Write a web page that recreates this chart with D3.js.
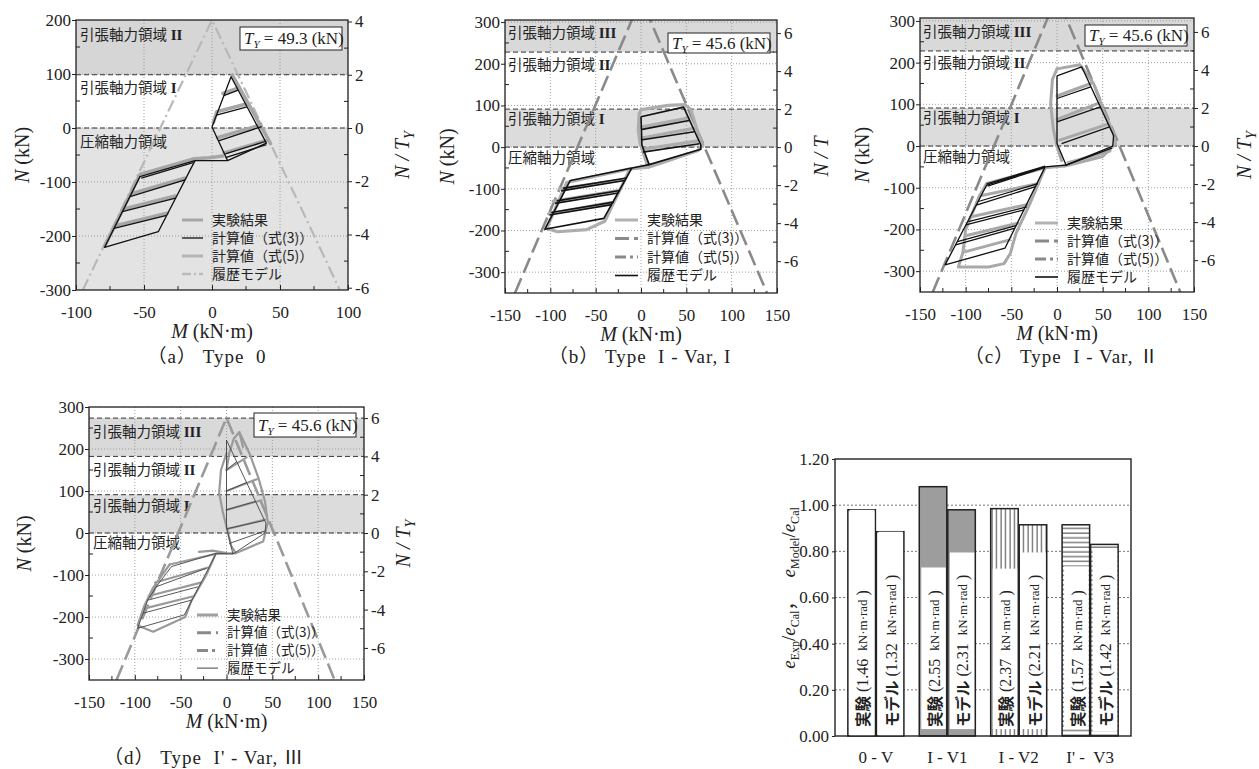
<!DOCTYPE html>
<html>
<head>
<meta charset="utf-8">
<script src="https://cdn.jsdelivr.net/npm/d3@7"></script>
<style>
body { margin: 0; background: #fff; }
svg { display: block; }
text { fill: #222; }
.tk { font-family: "Liberation Serif", "Times New Roman", serif; font-size: 17px; }
.jp { font-family: "Noto Sans CJK JP", sans-serif; }
.sf { font-family: "Liberation Serif", "Noto Sans CJK JP", serif; }
.grid { stroke: #8a8a8a; stroke-width: 0.8; stroke-dasharray: 1,2; }
</style>
</head>
<body>
<svg id="fig" width="1259" height="769"></svg>
<script>
// ---------- shared ticks ----------
var xTicksA = [-100, -50, 0, 50, 100];
var yTicksA = [-300, -200, -100, 0, 100, 200];
var rTicksA = [-6, -4, -2, 0, 2, 4];
var xTicks = [-150, -100, -50, 0, 50, 100, 150];
var yTicks = [-300, -200, -100, 0, 100, 200, 300];
var rTicks = [-6, -4, -2, 0, 2, 4, 6];
var legendText = ['実験結果', '計算値（式(3)）', '計算値（式(5)）', '履歴モデル'];

// ---------- (a) Type 0 ----------
var tyA = 49.3;
var bandsA = [[98.6, 200], [-300, 0]];
var limitsA = [98.6, 0];
var envA = [[-95, -300], [0, 200], [94, -300]];
var modelA = [
  [[11.5, -60.5], [0, 2], [14, 95], [40, -28], [11.5, -60.5]],
  [[8.7, 60], [19.3, 70]], [[3.3, 24], [25.8, 39]], [[4.8, -24], [36.5, 2.5]], [[9.8, -48], [39, -25]],
  [[10, -55], [40, -31]],
  [[11.5, -60.5], [-12.5, -60.5]],
  [[-12.5, -60.5], [-39.5, -192], [-79, -221], [-53, -90], [-12.5, -60.5]],
  [[-52, -93], [-14, -64]],
  [[-60.3, -127], [-19.8, -96]], [[-65.9, -155], [-26.8, -130]], [[-72, -186], [-33.3, -162]]
];
var expA = [
  [[1, 10], [3.5, 30], [26, 45]],
  [[8, 64], [19, 74]],
  [[4, -18], [36, 6]],
  [[9, -46], [40, -23]],
  [[15, 98], [42, -24], [43, -29]],
  [[-13, -57], [-2, -55], [8, -52]],
  [[-79, -219], [-53, -86], [-13, -57]],
  [[-60, -122], [-20, -93]],
  [[-65, -150], [-27, -126]],
  [[-71, -181], [-33, -158]]
];

// ---------- (b) Type I - Var, I ----------
var tyB = 45.6;
var bandsB = [[228, 310], [0, 91.2]];
var limitsB = [228, 91.2, 0];
var envB = [[-139, -350], [0, 356], [139, -350]];
var modelB = [
  [[0, 73], [47, 96], [66, 5], [66, -5], [9, -42], [1, 5], [0, 73]],
  [[0, 42], [53, 64]], [[0, 17], [58.7, 37]], [[2, -12], [64.4, 8]],
  [[9, -42], [-10, -50]],
  [[-10, -50], [-41, -171], [-106, -197], [-78, -80], [-10, -50]],
  [[-88, -105], [-18, -80]], [[-95, -135], [-25, -110]], [[-101, -163], [-32, -138]],
  [[-86, -99], [-16, -74]], [[-93, -129], [-23, -104]], [[-99, -157], [-30, -132]]
];
var expB = [
  [[-2, 80], [0, 90], [30, 100], [48, 102], [55, 90], [62, 40], [68, 5], [63, -8], [20, -40], [8, -48]],
  [[-2, 80], [-3, 40], [-1, 10], [5, -30], [8, -48]],
  [[0, 48], [52, 70]], [[1, 22], [58, 45]], [[3, -5], [63, 15]],
  [[8, -48], [-12, -52]],
  [[-12, -52], [-40, -178], [-60, -198], [-92, -203], [-104, -195], [-95, -150], [-82, -85], [-12, -52]],
  [[-90, -100], [-18, -78]], [[-97, -130], [-25, -104]], [[-102, -160], [-33, -133]]
];

// ---------- (c) Type I - Var, II ----------
var tyC = 45.6;
var bandsC = [[228, 310], [0, 91.2]];
var limitsC = [228, 91.2, 0];
var envC = [[-136, -350], [0, 360], [135, -350]];
var modelC = [
  [[0, 168], [27, 190], [62, 25], [61, 0], [10, -46], [0, 6], [0, 168]],
  [[0, 114], [37, 142]], [[0, 58], [47.4, 94]], [[5, 6], [57.5, 46]], [[10, -46], [60, -5]],
  [[10, -46], [-13, -50]],
  [[-13, -50], [-57, -245], [-122.5, -285], [-77, -93.5], [-13, -50]],
  [[-88.4, -141.5], [-23.7, -97.6]], [[-99.7, -189], [-36, -153]], [[-111, -237], [-46, -197]],
  [[-86, -133], [-21, -90]], [[-97, -181], [-33, -146]], [[-109, -229], [-44, -190]],
  [[-77, -91], [-13, -48]], [[-76, -96], [-14, -52]]
];
var expC = [
  [[0, 185], [25, 195], [40, 150], [52, 80], [62, 30], [64, 5], [50, -25], [20, -42], [8, -48]],
  [[0, 185], [-5, 160], [-7, 100], [-4, 40], [0, 0], [5, -35]],
  [[0, 120], [37, 150]], [[0, 64], [45, 102]], [[3, 14], [55, 52]], [[12, -40], [58, -12]],
  [[8, -48], [-13, -52]],
  [[-13, -52], [-77, -90]],
  [[-85, -120], [-20, -90]], [[-95, -170], [-32, -140]], [[-100, -215], [-43, -185]], [[-103, -255], [-52, -225]],
  [[-13, -52], [-30, -140], [-45, -210], [-51, -257], [-58, -282], [-75, -290], [-108, -290], [-103, -255], [-100, -200], [-85, -120], [-77, -90]]
];

// ---------- (d) Type I' - Var, III ----------
var tyD = 45.6;
var bandsD = [[182.4, 273.6], [0, 91.2]];
var limitsD = [273.6, 182.4, 91.2, 0];
var envD = [[-120, -350], [0, 274], [118, -350]];
var modelD = [
  [[0, 221], [43, 23], [42, 0], [7, -50], [0, 14], [0, 221]],
  [[0, 150], [11.1, 170]], [[0, 100], [21.9, 120]], [[0, 55], [31.7, 75]], [[0, 10], [41.5, 30]],
  [[3, -25], [42, 5]],
  [[7, -50], [-11, -48]],
  [[-11, -48], [-46, -195], [-97, -227], [-91, -191], [-86, -160], [-76.7, -128], [-60, -80], [-11, -48]],
  [[-76.7, -128], [-22, -84]], [[-86, -160], [-31, -128]], [[-91, -191], [-38.5, -160]]
];
var expD = [
  [[0, 150], [3, 190], [8, 225], [14, 240], [18, 205]],
  [[14, 240], [25, 190], [35, 130], [42, 75], [45, 25], [40, -20], [10, -48]],
  [[0, 190], [-6, 150], [-8, 95], [-4, 50], [0, 15], [5, -30], [10, -48]],
  [[0, 150], [22, 180]], [[0, 100], [33, 128]], [[0, 55], [38, 78]], [[2, 10], [42, 32]],
  [[10, -48], [-12, -50]],
  [[-12, -50], [-62, -75]],
  [[-62, -75], [-80, -130], [-90, -175], [-97, -220], [-80, -235], [-45, -200], [-38, -160], [-22, -100], [-12, -50]],
  [[-78, -118], [-20, -82]], [[-85, -150], [-28, -118]], [[-90, -180], [-35, -150]],
  [[-30, -45], [-15, -42], [0, -48]]
];

// ---------- bar chart ----------
var barGroups = ['0 - V', 'I - V1', 'I - V2', "I' -  V3"];
var barValues = [0.98, 0.885, 1.08, 0.98, 0.985, 0.915, 0.915, 0.83];
var barTags = ['実験', 'モデル', '実験', 'モデル', '実験', 'モデル', '実験', 'モデル'];
var barEnergy = ['1.46', '1.32', '2.55', '2.31', '2.37', '2.21', '1.57', '1.42'];
var boxTop = [0.98, 0.885, 0.73, 0.795, 0.725, 0.795, 0.735, 0.805];
var boxBottom = [0, 0, 0.03, 0.03, 0.03, 0.03, 0.03, 0.02];
var barTicks = [0, 0.2, 0.4, 0.6, 0.8, 1.0, 1.2];

var svg = d3.select('#fig');
var defs = svg.append('defs');

function panel(o) {
  var x = d3.scaleLinear().domain(o.xd).range([o.x0, o.x1]);
  var y = d3.scaleLinear().domain(o.yd).range([o.y1, o.y0]);
  var yr = d3.scaleLinear().domain([o.yd[0] / o.ty, o.yd[1] / o.ty]).range([o.y1, o.y0]);
  var line = d3.line().x(d => x(d[0])).y(d => y(d[1]));
  var w = o.x1 - o.x0, h = o.y1 - o.y0;
  var g = svg.append('g');
  defs.append('clipPath').attr('id', 'cp' + o.id).append('rect')
    .attr('x', o.x0).attr('y', o.y0).attr('width', w).attr('height', h);
  var p = g.append('g').attr('clip-path', 'url(#cp' + o.id + ')');

  p.selectAll(null).data(o.bands).enter().append('rect')
    .attr('x', o.x0).attr('width', w)
    .attr('y', d => y(d[1])).attr('height', d => y(d[0]) - y(d[1]))
    .attr('fill', (d, i) => o.bandFill[i]);
  p.selectAll(null).data(o.xt).enter().append('line').attr('class', 'grid')
    .attr('x1', d => x(d)).attr('x2', d => x(d)).attr('y1', o.y0).attr('y2', o.y1);
  p.selectAll(null).data(o.yt).enter().append('line').attr('class', 'grid')
    .attr('y1', d => y(d)).attr('y2', d => y(d)).attr('x1', o.x0).attr('x2', o.x1);
  p.selectAll(null).data(o.limits).enter().append('line')
    .attr('y1', d => y(d)).attr('y2', d => y(d)).attr('x1', o.x0).attr('x2', o.x1)
    .attr('stroke', '#333').attr('stroke-width', 1).attr('stroke-dasharray', '5,3');

  // zone labels
  o.zones.forEach(z => {
    var t = p.append('text').attr('x', z[2]).attr('y', z[3]);
    t.append('tspan').attr('class', 'jp').style('font-size', '14.5px').text(z[0]);
    if (z[1]) t.append('tspan').attr('class', 'sf').style('font-size', '15px')
      .style('font-weight', 'bold').text(' ' + z[1]);
  });

  // envelope, test result, model
  p.append('path').datum(o.env).attr('d', line).attr('fill', 'none')
    .attr('stroke', o.envStyle.c).attr('stroke-width', o.envStyle.w)
    .attr('stroke-dasharray', o.envStyle.dash);
  p.selectAll(null).data(o.exp).enter().append('path').attr('d', line)
    .attr('fill', 'none').attr('stroke', o.expStyle.c).attr('stroke-width', o.expStyle.w)
    .attr('stroke-linejoin', 'round').attr('stroke-linecap', 'round');
  p.selectAll(null).data(o.model).enter().append('path').attr('d', line)
    .attr('fill', 'none').attr('stroke', o.modelStyle.c).attr('stroke-width', o.modelStyle.w)
    .attr('stroke-linejoin', 'round');

  // minor ticks
  var mx = o.xt.slice(1).map((d, i) => (d + o.xt[i]) / 2);
  var my = o.yt.slice(1).map((d, i) => (d + o.yt[i]) / 2);
  var mr = o.rt.slice(1).map((d, i) => (d + o.rt[i]) / 2);
  g.selectAll(null).data(mx).enter().append('line')
    .attr('x1', d => x(d)).attr('x2', d => x(d)).attr('y1', o.y1).attr('y2', o.y1 - 4).attr('stroke', '#222');
  g.selectAll(null).data(my).enter().append('line')
    .attr('x1', o.x0).attr('x2', o.x0 + 4).attr('y1', d => y(d)).attr('y2', d => y(d)).attr('stroke', '#222');
  g.selectAll(null).data(mr).enter().append('line')
    .attr('x1', o.x1).attr('x2', o.x1 - 4).attr('y1', d => yr(d)).attr('y2', d => yr(d)).attr('stroke', '#222');

  g.append('rect').attr('x', o.x0).attr('y', o.y0).attr('width', w).attr('height', h)
    .attr('fill', 'none').attr('stroke', '#222').attr('stroke-width', 1.3);

  var fmt = d => String(d);
  var ab = g.append('g').attr('transform', 'translate(0,' + o.y1 + ')')
    .call(d3.axisBottom(x).tickValues(o.xt).tickSizeInner(-5).tickSizeOuter(0).tickPadding(16).tickFormat(fmt));
  var al = g.append('g').attr('transform', 'translate(' + o.x0 + ',0)')
    .call(d3.axisLeft(y).tickValues(o.yt).tickSizeInner(4).tickSizeOuter(0).tickPadding(1).tickFormat(fmt));
  var ar = g.append('g').attr('transform', 'translate(' + o.x1 + ',0)')
    .call(d3.axisRight(yr).tickValues(o.rt).tickSizeInner(4).tickSizeOuter(0).tickPadding(3).tickFormat(fmt));
  [ab, al, ar].forEach(a => {
    a.select('.domain').remove();
    a.selectAll('text').attr('class', 'tk');
    a.selectAll('line').attr('stroke', '#222');
  });

  // axis titles
  var cy = (o.y0 + o.y1) / 2, cx = (o.x0 + o.x1) / 2;
  var nl = g.append('text').attr('class', 'sf').style('font-size', '20px').attr('text-anchor', 'middle')
    .attr('dy', '0.35em').attr('transform', 'translate(' + (o.x0 - o.nx) + ',' + cy + ') rotate(-90)');
  nl.append('tspan').style('font-style', 'italic').text('N');
  nl.append('tspan').text(' (kN)');
  var ml = g.append('text').attr('class', 'sf').style('font-size', '20px').attr('text-anchor', 'middle')
    .attr('x', cx).attr('y', o.y1 + 48);
  ml.append('tspan').style('font-style', 'italic').text('M');
  ml.append('tspan').text(' (kN·m)');
  var rl = g.append('text').attr('class', 'sf').style('font-size', '20px').attr('text-anchor', 'middle')
    .attr('dy', '0.35em').attr('transform', 'translate(' + (o.x1 + o.rx) + ',' + cy + ') rotate(-90)')
    .style('font-style', 'italic');
  rl.append('tspan').text('N / T');
  if (o.sub) rl.append('tspan').attr('dy', 5).style('font-size', '14px').text('Y');

  // T_Y box
  var b = o.tyBox;
  g.append('rect').attr('x', b[0]).attr('y', b[1]).attr('width', b[2]).attr('height', b[3])
    .attr('fill', '#fff').attr('stroke', '#222').attr('stroke-width', 1);
  var tt = g.append('text').attr('class', 'sf').style('font-size', '17px')
    .attr('x', b[0] + 4).attr('y', b[1] + b[3] / 2).attr('dy', '0.33em');
  tt.append('tspan').style('font-style', 'italic').text('T');
  tt.append('tspan').attr('dy', 4).style('font-style', 'italic').style('font-size', '11px').text('Y');
  tt.append('tspan').attr('dy', -4).text(' = ' + o.ty + ' (kN)');

  // legend
  var L = o.legend;
  legendText.forEach((t, i) => {
    var s = L.styles[i], yy = L.y + i * L.step;
    g.append('line').attr('x1', L.x0).attr('x2', L.x1).attr('y1', yy).attr('y2', yy)
      .attr('stroke', s.c).attr('stroke-width', s.w).attr('stroke-dasharray', s.dash || null);
    g.append('text').attr('class', 'jp').style('font-size', L.fs)
      .attr('x', L.tx).attr('y', yy).attr('dy', '0.35em').text(t);
  });

  // caption
  g.append('text').attr('class', 'sf').style('font-size', '19px').style('letter-spacing', '1px')
    .attr('text-anchor', 'middle')
    .attr('x', o.cap[1]).attr('y', o.cap[2]).style('white-space', 'pre').text(o.cap[0]);
}

var stylesBC = [
  { c: '#b2b2b2', w: 3 },
  { c: '#8a8a8a', w: 3, dash: '14,5' },
  { c: '#8a8a8a', w: 3, dash: '11,4,3,4' },
  { c: '#111', w: 1.6 }
];

panel({
  id: 'a', x0: 76, x1: 348, y0: 20, y1: 290, xd: [-100, 100], yd: [-300, 200], ty: tyA,
  xt: xTicksA, yt: yTicksA, rt: rTicksA,
  bands: bandsA, bandFill: ['#d6d6d6', '#e3e3e3'], limits: limitsA,
  env: envA, envStyle: { c: '#b8b8b8', w: 2.2, dash: '12,4,2,4' },
  model: modelA, modelStyle: { c: '#111', w: 1.3 },
  exp: expA, expStyle: { c: '#a6a6a6', w: 3.5 },
  zones: [['引張軸力領域', 'II', 80, 40], ['引張軸力領域', 'I', 80, 93], ['圧縮軸力領域', '', 80, 147]],
  tyBox: [240, 27, 102, 23], nx: 54, rx: 54, sub: true,
  legend: { x0: 182, x1: 203, tx: 212, y: 220, step: 18, fs: '14px',
    styles: [{ c: '#a6a6a6', w: 3 }, { c: '#111', w: 1.3 }, { c: '#b4b4b4', w: 3 }, { c: '#bbb', w: 2.5, dash: '9,3,2,3' }] },
  cap: ['（a） Type  0', 207, 363]
});

panel({
  id: 'b', x0: 505, x1: 777, y0: 20, y1: 293, xd: [-150, 150], yd: [-350, 305], ty: tyB,
  xt: xTicks, yt: yTicks, rt: rTicks,
  bands: bandsB, bandFill: ['#d9d9d9', '#dcdcdc'], limits: limitsB,
  env: envB, envStyle: { c: '#8a8a8a', w: 2.6, dash: '16,6' },
  model: modelB, modelStyle: { c: '#111', w: 1.6 },
  exp: expB, expStyle: { c: '#adadad', w: 3.2 },
  zones: [['引張軸力領域', 'III', 508, 38], ['引張軸力領域', 'II', 508, 70], ['引張軸力領域', 'I', 508, 124], ['圧縮軸力領域', '', 508, 163]],
  tyBox: [668, 33, 102, 20], nx: 58, rx: 44, sub: false,
  legend: { x0: 615, x1: 638, tx: 647, y: 220, step: 18.5, fs: '14px', styles: stylesBC },
  cap: ['（b） Type  I - Var, I', 640, 363]
});

panel({
  id: 'c', x0: 920, x1: 1194, y0: 18, y1: 292, xd: [-150, 150], yd: [-350, 307], ty: tyC,
  xt: xTicks, yt: yTicks, rt: rTicks,
  bands: bandsC, bandFill: ['#d9d9d9', '#dcdcdc'], limits: limitsC,
  env: envC, envStyle: { c: '#8a8a8a', w: 2.6, dash: '16,6' },
  model: modelC, modelStyle: { c: '#111', w: 1.3 },
  exp: expC, expStyle: { c: '#a9a9a9', w: 3 },
  zones: [['引張軸力領域', 'III', 923, 37], ['引張軸力領域', 'II', 923, 68], ['引張軸力領域', 'I', 923, 123], ['圧縮軸力領域', '', 923, 162]],
  tyBox: [1085, 25, 102, 21], nx: 58, rx: 50, sub: true,
  legend: { x0: 1035, x1: 1058, tx: 1067, y: 223, step: 18, fs: '14px', styles: stylesBC },
  cap: ['（c） Type  I - Var, Ⅱ', 1062, 363]
});

panel({
  id: 'd', x0: 89, x1: 364, y0: 407, y1: 680, xd: [-150, 150], yd: [-350, 300], ty: tyD,
  xt: xTicks, yt: yTicks, rt: rTicks,
  bands: bandsD, bandFill: ['#d9d9d9', '#dcdcdc'], limits: limitsD,
  env: envD, envStyle: { c: '#9a9a9a', w: 2.6, dash: '16,6' },
  model: modelD, modelStyle: { c: '#444', w: 0.9 },
  exp: expD, expStyle: { c: '#9a9a9a', w: 2.2 },
  zones: [['引張軸力領域', 'III', 93, 437], ['引張軸力領域', 'II', 93, 475], ['引張軸力領域', 'I', 93, 511], ['圧縮軸力領域', '', 93, 548]],
  tyBox: [254, 413, 102, 24], nx: 65, rx: 39, sub: true,
  legend: { x0: 197, x1: 218, tx: 227, y: 615, step: 17.7, fs: '13.5px',
    styles: [{ c: '#a0a0a0', w: 3 }, { c: '#8a8a8a', w: 3, dash: '14,5' }, { c: '#8a8a8a', w: 3, dash: '11,4,3,4' }, { c: '#444', w: 1 }] },
  cap: ["（d） Type  I' - Var, Ⅲ", 204, 764]
});

// ---------- bar chart ----------
(function () {
  var pv = defs.append('pattern').attr('id', 'vs').attr('patternUnits', 'userSpaceOnUse')
    .attr('width', 4.5).attr('height', 10);
  pv.append('rect').attr('width', 4.5).attr('height', 10).attr('fill', '#fff');
  pv.append('line').attr('x1', 2).attr('x2', 2).attr('y1', 0).attr('y2', 10).attr('stroke', '#222').attr('stroke-width', 0.9);
  var ph = defs.append('pattern').attr('id', 'hs').attr('patternUnits', 'userSpaceOnUse')
    .attr('width', 10).attr('height', 4.7);
  ph.append('rect').attr('width', 10).attr('height', 4.7).attr('fill', '#fff');
  ph.append('line').attr('x1', 0).attr('x2', 10).attr('y1', 2).attr('y2', 2).attr('stroke', '#222').attr('stroke-width', 0.9);
  var fills = ['#fff', '#9d9d9d', 'url(#vs)', 'url(#hs)'];

  var x0 = 835, x1 = 1131, y0 = 459, y1 = 736;
  var bx = d3.scaleBand().domain(barGroups).range([x0, x1]).paddingInner(0.215).paddingOuter(0.18);
  var by = d3.scaleLinear().domain([0, 1.2]).range([y1, y0]);
  var g = svg.append('g');
  var bw = bx.bandwidth() / 2;

  g.selectAll(null).data(barTicks.slice(1, -1)).enter().append('line')
    .attr('x1', x0).attr('x2', x1).attr('y1', d => by(d)).attr('y2', d => by(d))
    .attr('stroke', '#555').attr('stroke-width', 0.8).attr('stroke-dasharray', '2,2');

  var bars = barValues.map((v, i) => ({
    v: v, i: i, gi: Math.floor(i / 2),
    x: bx(barGroups[Math.floor(i / 2)]) + (i % 2) * (bw + 0.5)
  }));
  g.selectAll(null).data(bars).enter().append('rect')
    .attr('x', d => d.x).attr('width', bw - 0.5)
    .attr('y', d => by(d.v)).attr('height', d => by(0) - by(d.v))
    .attr('fill', d => fills[d.gi]).attr('stroke', '#222').attr('stroke-width', 1.5);
  g.selectAll(null).data(bars).enter().append('rect')
    .attr('x', d => d.x + 2).attr('width', bw - 3.5)
    .attr('y', d => by(boxTop[d.i])).attr('height', d => by(boxBottom[d.i]) - by(boxTop[d.i]))
    .attr('fill', '#fff');
  bars.forEach(d => {
    var t = g.append('text').attr('dominant-baseline', 'central').style('white-space', 'pre')
      .attr('transform', 'translate(' + (d.x + bw / 2 + 0.5) + ',' + (by(0) - 9) + ') rotate(-90)');
    t.append('tspan').attr('class', 'jp').style('font-size', '15.5px').style('font-weight', 'bold').text(barTags[d.i]);
    t.append('tspan').attr('class', 'sf').style('font-size', '16px').text(' (' + barEnergy[d.i] + '  ');
    t.append('tspan').attr('class', 'sf').style('font-size', '13px').text('kN·m·rad');
    t.append('tspan').attr('class', 'sf').style('font-size', '16px').text(' )');
  });

  g.append('rect').attr('x', x0).attr('y', y0).attr('width', x1 - x0).attr('height', y1 - y0)
    .attr('fill', 'none').attr('stroke', '#222').attr('stroke-width', 1.4);

  var al = g.append('g').attr('transform', 'translate(' + x0 + ',0)')
    .call(d3.axisLeft(by).tickValues(barTicks).tickSizeInner(3).tickSizeOuter(0).tickPadding(3).tickFormat(d3.format('.2f')));
  var ab = g.append('g').attr('transform', 'translate(0,' + y1 + ')')
    .call(d3.axisBottom(bx).tickSize(0).tickPadding(10));
  [al, ab].forEach(a => {
    a.select('.domain').remove();
    a.selectAll('text').attr('class', 'tk').style('white-space', 'pre');
    a.selectAll('line').attr('stroke', '#222');
  });
  ab.selectAll('text').attr('dy', '1em');

  var yl = g.append('text').attr('class', 'sf').style('font-size', '19px').attr('text-anchor', 'middle')
    .attr('transform', 'translate(795,588) rotate(-90)').style('white-space', 'pre');
  yl.append('tspan').style('font-style', 'italic').text('e');
  yl.append('tspan').attr('dy', 4).style('font-size', '12px').text('Exp');
  yl.append('tspan').attr('dy', -4).text('/');
  yl.append('tspan').style('font-style', 'italic').text('e');
  yl.append('tspan').attr('dy', 4).style('font-size', '12px').text('Cal');
  yl.append('tspan').attr('dy', -4).text('，   ');
  yl.append('tspan').style('font-style', 'italic').text('e');
  yl.append('tspan').attr('dy', 4).style('font-size', '12px').text('Model');
  yl.append('tspan').attr('dy', -4).text('/');
  yl.append('tspan').style('font-style', 'italic').text('e');
  yl.append('tspan').attr('dy', 4).style('font-size', '12px').text('Cal');
})();
</script>
</body>
</html>
